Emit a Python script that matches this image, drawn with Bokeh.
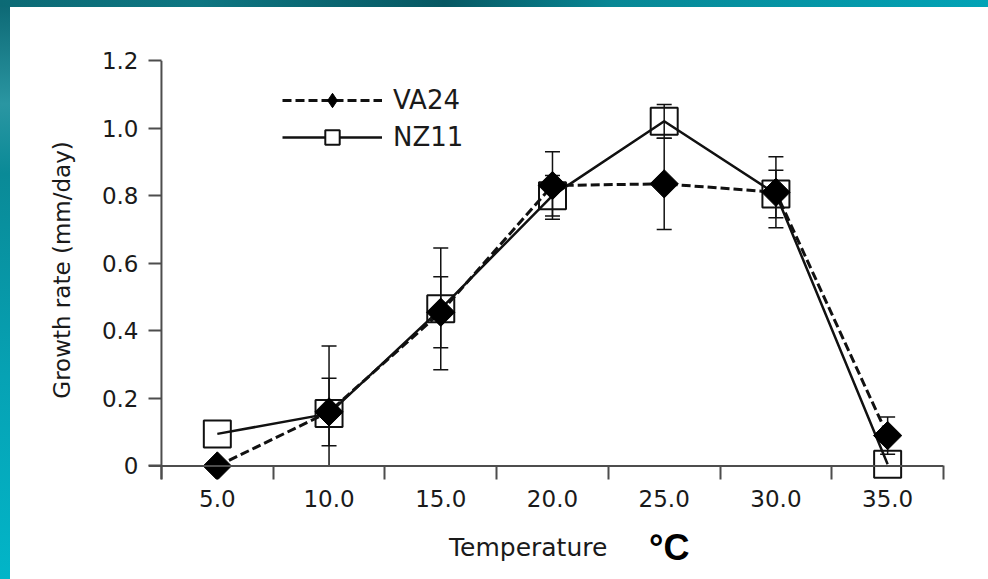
import numpy as np
from bokeh.plotting import figure
from bokeh.models import (ColumnDataSource, Whisker, TeeHead, FixedTicker,
                          Legend, LegendItem, Span, Div)
from bokeh.layouts import column
from bokeh.embed import file_html
from bokeh.resources import INLINE

# Mycelial growth rate of two isolates across incubation temperatures
temperature = [5.0, 10.0, 15.0, 20.0, 25.0, 30.0, 35.0]
va24_rate = [0.0, 0.16, 0.455, 0.83, 0.835, 0.81, 0.09]
va24_err = [0.0, 0.10, 0.105, 0.10, 0.135, 0.105, 0.055]
nz11_rate = [0.095, 0.155, 0.465, 0.80, 1.02, 0.805, 0.005]
nz11_err = [0.0, 0.20, 0.18, 0.06, 0.05, 0.07, 0.0]

x_tick_labels = ["5.0", "10.0", "15.0", "20.0", "25.0", "30.0", "35.0"]
x_bounds = [2.5, 7.5, 12.5, 17.5, 22.5, 27.5, 32.5, 37.5]
y_ticks = [0, 0.2, 0.4, 0.6, 0.8, 1.0, 1.2]
y_tick_labels = ["0", "0.2", "0.4", "0.6", "0.8", "1.0", "1.2"]

FONT = "DejaVu Sans"
INK = "#111111"
AXIS = "#4d4d4d"
TEXT = "#1a1a1a"

# the frame reaches a little past the axis lines so that markers sitting
# on the axes are drawn whole
p = figure(width=978, height=515, x_range=(1.92, 37.5), y_range=(-0.04, 1.2),
           output_backend="svg", toolbar_location=None,
           min_border_left=138, min_border_right=45,
           min_border_top=53, min_border_bottom=43,
           background_fill_color="white", border_fill_color="white",
           outline_line_color=None)
p.margin = (7, 0, 0, 10)
p.xgrid.visible = False
p.ygrid.visible = False

# axis lines at x = 2.5 and y = 0
p.add_layout(Span(location=0, dimension="width", line_color=AXIS, line_width=2))
p.add_layout(Span(location=x_bounds[0], dimension="height", line_color=AXIS,
                  line_width=2))

# x axis: labels at the temperatures, tick marks between categories
xa = p.xaxis[0]
xa.ticker = FixedTicker(ticks=temperature, minor_ticks=x_bounds)
xa.major_label_overrides = {t: s for t, s in zip(temperature, x_tick_labels)}
xa.axis_line_color = None
xa.major_tick_out = 0
xa.major_tick_in = 0
xa.minor_tick_out = 0
xa.minor_tick_in = 14
xa.minor_tick_line_color = AXIS
xa.minor_tick_line_width = 2
xa.major_label_standoff = 10
xa.major_label_text_font = FONT
xa.major_label_text_font_size = "23px"
xa.major_label_text_color = TEXT

ya = p.yaxis[0]
ya.ticker = FixedTicker(ticks=y_ticks, minor_ticks=[])
ya.major_label_overrides = {t: s for t, s in zip(y_ticks, y_tick_labels)}
ya.axis_line_color = None
ya.major_tick_out = 0
ya.major_tick_in = 13
ya.minor_tick_out = 0
ya.major_tick_line_color = AXIS
ya.major_tick_line_width = 2
ya.major_label_standoff = 10
ya.major_label_text_font = FONT
ya.major_label_text_font_size = "23px"
ya.major_label_text_color = TEXT
ya.axis_label = "Growth rate (mm/day)"
ya.axis_label_text_font = FONT
ya.axis_label_text_font_size = "23px"
ya.axis_label_text_font_style = "normal"
ya.axis_label_text_color = TEXT
ya.axis_label_standoff = 24


def error_source(x, y, e):
    x = np.asarray(x); y = np.asarray(y); e = np.asarray(e)
    keep = e > 0
    return ColumnDataSource(dict(base=x[keep],
                                 lower=np.clip(y[keep] - e[keep], 0, None),
                                 upper=y[keep] + e[keep]))


for src in (error_source(temperature, nz11_rate, nz11_err),
            error_source(temperature, va24_rate, va24_err)):
    p.add_layout(Whisker(source=src, base="base", lower="lower", upper="upper",
                         dimension="height", line_color=INK, line_width=1.5,
                         upper_head=TeeHead(size=15, line_color=INK, line_width=1.5),
                         lower_head=TeeHead(size=15, line_color=INK, line_width=1.5)))

va_line = p.line(temperature, va24_rate, line_color=INK, line_width=3,
                 line_dash="9 4")
nz_line = p.line(temperature, nz11_rate, line_color=INK, line_width=2.5)

p.scatter(temperature, nz11_rate, marker="square", size=27, fill_alpha=0,
          line_color=INK, line_width=2)
p.scatter(temperature, va24_rate, marker="square", angle=np.pi / 4, size=20,
          fill_color="black", line_color="black")

# hidden renderers that give the legend its marker swatches
va_key = p.scatter(temperature, va24_rate, marker="diamond", size=17,
                   fill_color="black", line_color="black", visible=False)
nz_key = p.scatter(temperature, nz11_rate, marker="square", size=15,
                   fill_color="white", line_color=INK, line_width=2, visible=False)

legend = Legend(items=[LegendItem(label="VA24", renderers=[va_line, va_key]),
                       LegendItem(label="NZ11", renderers=[nz_line, nz_key])],
                location=(134, 324), border_line_color=None,
                background_fill_alpha=0, padding=0, margin=0, spacing=1,
                glyph_width=100, glyph_height=36, label_standoff=11,
                inactive_fill_alpha=0,
                label_text_font=FONT, label_text_font_size="26px",
                label_text_color=TEXT)
p.add_layout(legend)

# x axis title, set as a line of text under the plot
x_title = Div(width=978, height=57, margin=(0, 0, 0, 10), text=(
    '<div style="position:relative;width:978px;height:57px;">'
    '<span style="position:absolute;left:439px;top:13px;line-height:1;'
    'font-family:\'DejaVu Sans\';font-size:25px;color:#1a1a1a;'
    'white-space:nowrap;">Temperature</span>'
    '<span style="position:absolute;left:639px;top:8px;line-height:1;'
    'font-family:\'Liberation Sans\';font-size:36px;font-weight:bold;'
    'color:#000;white-space:nowrap;">°C</span>'
    '</div>'))

top_strip = ("linear-gradient(to right, #0c6a75 0%, #0e7682 20%, #075863 45%, "
             "#088795 62%, #02a3b6 100%) left top / 100% 7px no-repeat")
left_strip = ("linear-gradient(to bottom, #0c6773 0%, #2a96a2 18%, #0a8a97 30%, "
              "#06a2b4 65%, #02b5c8 100%) left top / 10px 100% no-repeat")
page = column(p, x_title, spacing=0,
              styles={"background": f"{top_strip}, {left_strip}, white"})

open("out.html", "w").write(file_html(page, INLINE))
